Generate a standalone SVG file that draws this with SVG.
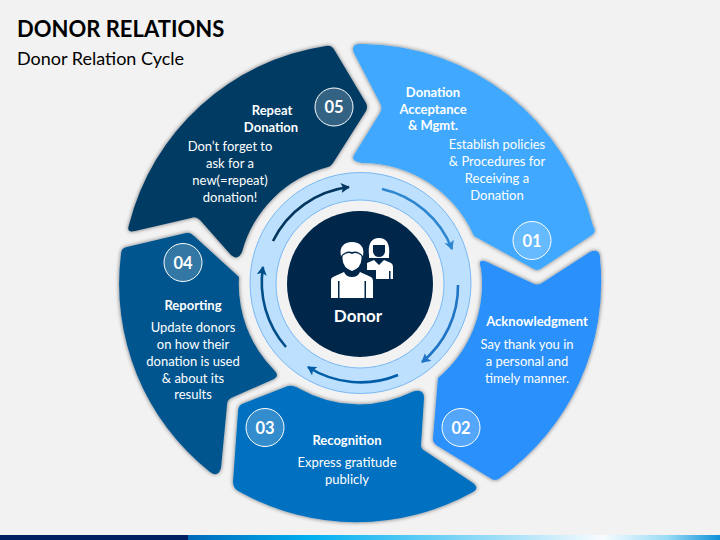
<svg xmlns="http://www.w3.org/2000/svg" width="720" height="540" viewBox="0 0 720 540">
<style>
text{font-family:"Lato","Carlito","Liberation Sans",sans-serif;fill:#fff;text-anchor:middle}
.h{font-weight:700;font-size:13px}
.b{font-size:13px}
.n{font-weight:700;font-size:16.5px}
.badge{fill:#fff;fill-opacity:.2;stroke:#fff;stroke-width:1}
.seg{filter:url(#sh)}
.a{fill:none;stroke-width:2.6}
.ic{fill:#fff}
.icd{fill:#00264a}
</style>
<defs>
<filter id="sh" x="-10%" y="-10%" width="120%" height="120%"><feGaussianBlur in="SourceAlpha" stdDeviation="2.2"/><feComponentTransfer result="s"><feFuncA type="linear" slope=".55"/></feComponentTransfer><feMerge><feMergeNode in="s"/><feMergeNode in="SourceGraphic"/></feMerge></filter>
<linearGradient id="bar" x1="188" x2="720" y1="0" y2="0" gradientUnits="userSpaceOnUse"><stop offset="0" stop-color="#0068b8"/><stop offset=".23" stop-color="#00b0f0"/><stop offset=".6" stop-color="#a5e1f8"/><stop offset=".78" stop-color="#f8fcff"/><stop offset=".9" stop-color="#9adcf6"/><stop offset="1" stop-color="#1090d8"/></linearGradient>
<marker id="m1" markerUnits="userSpaceOnUse" markerWidth="12" markerHeight="12" refX="8" refY="5" orient="auto"><path d="M0,0L9,5L0,10L2,5Z" fill="#2e86ce"/></marker>
<marker id="m2" markerUnits="userSpaceOnUse" markerWidth="12" markerHeight="12" refX="8" refY="5" orient="auto"><path d="M0,0L9,5L0,10L2,5Z" fill="#1f74c6"/></marker>
<marker id="m3" markerUnits="userSpaceOnUse" markerWidth="12" markerHeight="12" refX="8" refY="5" orient="auto"><path d="M0,0L9,5L0,10L2,5Z" fill="#005ea8"/></marker>
<marker id="m4" markerUnits="userSpaceOnUse" markerWidth="12" markerHeight="12" refX="8" refY="5" orient="auto"><path d="M0,0L9,5L0,10L2,5Z" fill="#004f88"/></marker>
<marker id="m5" markerUnits="userSpaceOnUse" markerWidth="12" markerHeight="12" refX="8" refY="5" orient="auto"><path d="M0,0L9,5L0,10L2,5Z" fill="#04375f"/></marker>
</defs>
<rect width="720" height="540" fill="#f2f2f2"/>
<rect y="535" width="188" height="5" fill="#002060"/>
<rect x="188" y="535" width="532" height="5" fill="url(#bar)"/>
<text x="17" y="37" style="text-anchor:start;fill:#000;font-weight:700;font-size:22px">DONOR RELATIONS</text>
<text x="17" y="65" style="text-anchor:start;fill:#000;font-size:18px">Donor Relation Cycle</text>

<g id="node-01">
<path class="seg" fill="#3fa9ff" d="M362,44A240,240 0 0 1 593,226Q597,232 592,235L542,268Q537,272 532,268L474,236A122,122 0 0 0 362,163Q350,161 354,155L380,113Q383,108 380,103L354,53Q350,43 362,44Z"/>
<circle class="badge" cx="532" cy="240.5" r="19"/><text class="n" x="532" y="246.500">01</text>
<text class="h"><tspan x="433" y="97">Donation</tspan><tspan x="433" y="113.500">Acceptance</tspan><tspan x="433" y="130">&amp; Mgmt.</tspan></text>
<text class="b"><tspan x="497" y="149">Establish policies</tspan><tspan x="497" y="166">&amp; Procedures for</tspan><tspan x="497" y="183">Receiving a</tspan><tspan x="497" y="200">Donation</tspan></text>
</g>
<g id="node-02">
<path class="seg" fill="#2b90fb" d="M487,262L532,283Q537,286 542,283L590,252Q600,248 600,258A240,240 0 0 1 500,478Q495,482 490,478L436,445Q432,442 433,438L438,378A122,122 0 0 0 481,268Q477,258 487,262Z"/>
<circle class="badge" cx="461" cy="427.500" r="19"/><text class="n" x="461" y="433.500">02</text>
<text class="h" x="537" y="326">Acknowledgment</text>
<text class="b"><tspan x="527" y="349">Say thank you in</tspan><tspan x="527" y="366">a personal and</tspan><tspan x="527" y="383">timely manner.</tspan></text>
</g>
<g id="node-03">
<path class="seg" fill="#0070c0" d="M300,389A120,120 0 0 0 412,392Q424,388 424,398L421,445Q421,449 425,451L473,483Q480,488 473,492A240,240 0 0 1 240,492Q233,489 233,482L238,412Q238,406 242,404L288,386Q293,385 300,389Z"/>
<circle class="badge" cx="265" cy="427.500" r="19"/><text class="n" x="265" y="433.500">03</text>
<text class="h" x="347" y="445">Recognition</text>
<text class="b"><tspan x="347" y="467">Express gratitude</tspan><tspan x="347" y="484">publicly</tspan></text>
</g>
<g id="node-04">
<path class="seg" fill="#00558f" d="M186,233Q190,232 194,236L239,277A122,122 0 0 0 274,370Q280,376 274,379L231,398Q227,400 227,405L221,468Q218,478 210,472A240,240 0 0 1 121,254Q121,248 127,247Z"/>
<circle class="badge" cx="183" cy="262.500" r="19"/><text class="n" x="183" y="268.500">04</text>
<text class="h" x="193" y="310">Reporting</text>
<text class="b"><tspan x="193" y="332">Update donors</tspan><tspan x="193" y="349">on how their</tspan><tspan x="193" y="366">donation is used</tspan><tspan x="193" y="383">&amp; about its</tspan><tspan x="193" y="399">results</tspan></text>
</g>
<g id="node-05">
<path class="seg" fill="#003a63" d="M326,46Q332,45 335,51L366,103Q368,107 366,111L333,163Q331,166 328,167A120,120 0 0 0 242,252Q238,261 231,255L200,220Q196,216 191,218L135,231Q126,233 129,225A240,240 0 0 1 326,46Z"/>
<circle class="badge" cx="334" cy="107" r="19"/><text class="n" x="334" y="113">05</text>
<text class="h"><tspan x="272" y="115">Repeat</tspan><tspan x="271" y="132">Donation</tspan></text>
<text class="b"><tspan x="230" y="151">Don’t forget to</tspan><tspan x="230" y="168">ask for a</tspan><tspan x="230" y="185">new(=repeat)</tspan><tspan x="230" y="202">donation!</tspan></text>
</g>

<g id="ring">
<circle cx="360.500" cy="283" r="110.500" fill="#bde0fe" stroke="#7ab8f5" stroke-width="1"/>
<circle cx="360" cy="284" r="84" fill="#f2f2f2" stroke="#7ab8f5" stroke-width="1"/>
</g>
<g id="connectors">
<path class="a" stroke="#2e86ce" marker-end="url(#m1)" d="M382,189A98,98 0 0 1 452,249"/>
<path class="a" stroke="#1f74c6" marker-end="url(#m2)" d="M458,285A98,98 0 0 1 422,362"/>
<path class="a" stroke="#005ea8" marker-end="url(#m3)" d="M398,375A98,98 0 0 1 308,367"/>
<path class="a" stroke="#004f88" marker-end="url(#m4)" d="M286,347A98,98 0 0 1 263,267"/>
<path class="a" stroke="#04375f" marker-end="url(#m5)" d="M273,241A98,98 0 0 1 349,187"/>
</g>
<g id="node-donor">
<circle cx="360" cy="284" r="73" fill="#00264a"/>
<g id="icon">
<path class="ic" d="M369,255C368,246 370,238 379,238C388,238 390,246 389,255L389,258L369,258Z"/>
<path class="icd" d="M373,245H385V252Q384,257 379,257Q374,257 373,252Z"/>
<path class="ic" d="M367,263L374,260L379,265L384,260L391,263Q393,264 393,267V279H367Z"/>
<rect class="icd" x="389" y="271" width="1.500" height="9"/>
<path class="icd" d="M361,270H376V300H361Z"/>
<path class="ic" d="M333,277L344,272Q346,277 352,277Q358,277 360,272L371,277Q373,278 373,281V298H366V281H364.500V298H339.500V281H338V298H331V280Q331,278 333,277Z"/>
<path class="ic" d="M342.500,256V259Q343,268 352,271Q361,268 361.500,259V256Q357,251.500 352,254Q347,251.500 342.500,256Z"/>
<path class="icd" d="M346,268Q352,275 358,268L359,271Q352,278 345,271Z"/>
<path class="ic" d="M341,256C339,247 344,242 352,242C360,242 365,247 363,256Q358,250 352,252Q346,250 341,256Z"/>
</g>
<text x="358" y="322" style="font-weight:700;font-size:17px">Donor</text>
</g>
</svg>
